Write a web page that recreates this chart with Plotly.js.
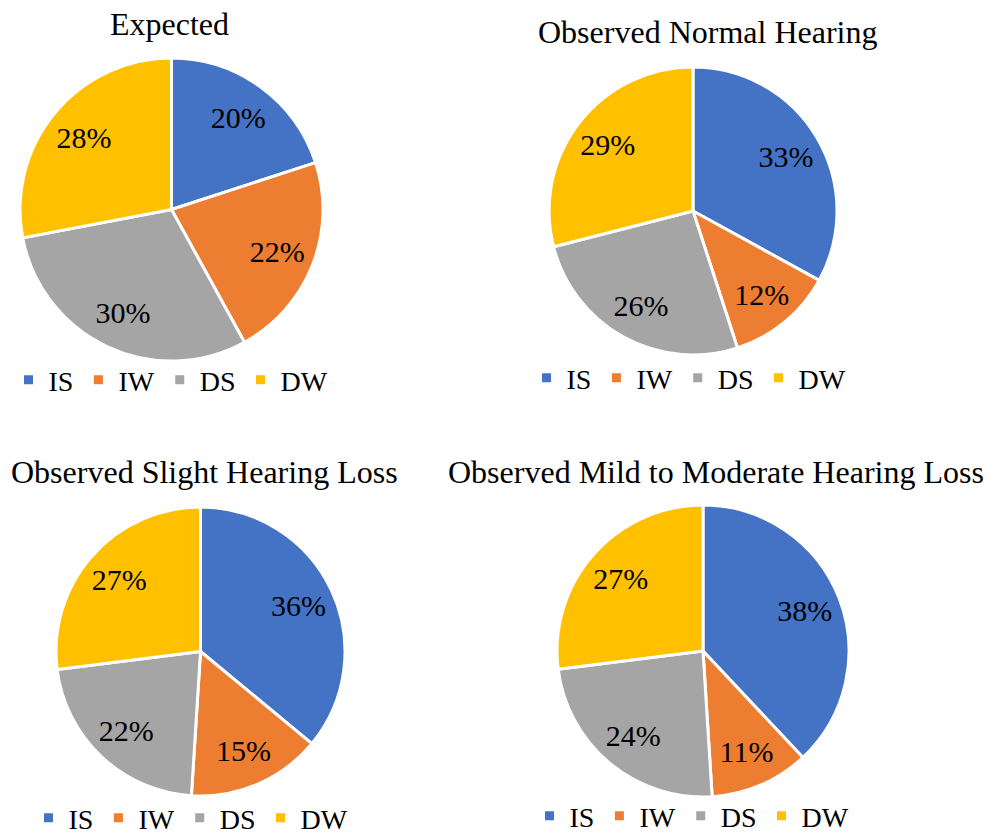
<!DOCTYPE html>
<html>
<head>
<meta charset="utf-8">
<script src="https://cdn.plot.ly/plotly-3.0.1.min.js"></script>
<style>html,body{margin:0;padding:0;background:#fff;}#chart{width:990px;height:834px;}</style>
</head>
<body>
<div id="chart"></div>
<script>
const categories = ["IS", "IW", "DS", "DW"];
const titles = ["Expected", "Observed Normal Hearing", "Observed Slight Hearing Loss", "Observed Mild to Moderate Hearing Loss"];
const expected = [20, 22, 30, 28];
const normalHearing = [33, 12, 26, 29];
const slightLoss = [36, 15, 22, 27];
const mildModerateLoss = [38, 11, 24, 27];
const colors = ["#4472C4", "#ED7D31", "#A5A5A5", "#FFC000"];

const W = 990, H = 834;
const FONT = "Liberation Serif";
const boxes = [
  {l: 20, t: 58, s: 303},
  {l: 549, t: 67, s: 288},
  {l: 56, t: 507, s: 289},
  {l: 557, t: 505, s: 292}
];
const titlePos = [[169, 24], [707, 32], [204, 472], [716, 472]];
const legendPos = [[171, 380], [689, 378], [191, 818], [692, 816]];
const series = [expected, normalHearing, slightLoss, mildModerateLoss];
const legendNames = ["legend", "legend2", "legend3", "legend4"];

function domainOf(b) {
  return {
    x: [b.l / W, (b.l + b.s) / W],
    y: [1 - (b.t + b.s) / H, 1 - b.t / H]
  };
}

const data = [];
series.forEach((vals, i) => {
  // coloured slices
  data.push({
    type: "pie",
    labels: categories,
    values: vals,
    sort: false,
    direction: "clockwise",
    rotation: 0,
    marker: {colors: colors, line: {color: "#ffffff", width: 3}},
    textinfo: "none",
    hoverinfo: "label+value",
    legend: legendNames[i],
    legendgroup: "g" + i,
    domain: domainOf(boxes[i])
  });
  // percentage labels (transparent ring of the same values, so labels sit toward the rim)
  data.push({
    type: "pie",
    labels: categories,
    values: vals,
    sort: false,
    direction: "clockwise",
    rotation: 0,
    hole: 0.5,
    marker: {colors: ["rgba(0,0,0,0)", "rgba(0,0,0,0)", "rgba(0,0,0,0)", "rgba(0,0,0,0)"], line: {width: 0}},
    texttemplate: "%{value}%",
    textposition: "inside",
    insidetextorientation: "horizontal",
    textfont: {family: FONT, size: 30, color: "#000000"},
    hoverinfo: "skip",
    showlegend: false,
    legend: legendNames[i],
    legendgroup: "t" + i,
    domain: domainOf(boxes[i])
  });
});

const layout = {
  width: W, height: H,
  margin: {l: 0, r: 0, t: 0, b: 0, pad: 0, autoexpand: false},
  paper_bgcolor: "#ffffff",
  font: {family: FONT, color: "#000000"},
  annotations: titles.map((t, i) => ({
    text: t, xref: "paper", yref: "paper",
    x: titlePos[i][0] / W, y: 1 - titlePos[i][1] / H,
    xanchor: "center", yanchor: "middle", showarrow: false,
    font: {family: FONT, size: 32, color: "#000000"}
  }))
};
legendNames.forEach((ln, i) => {
  layout[ln] = {
    orientation: "h",
    traceorder: "normal",
    x: legendPos[i][0] / W, y: 1 - legendPos[i][1] / H,
    xanchor: "center", yanchor: "middle",
    font: {family: FONT, size: 28, color: "#000000"},
    bgcolor: "rgba(0,0,0,0)",
    itemwidth: 30,
    tracegroupgap: 0
  };
});

Plotly.newPlot("chart", data, layout, {displayModeBar: false, staticPlot: true});
</script>
</body>
</html>
